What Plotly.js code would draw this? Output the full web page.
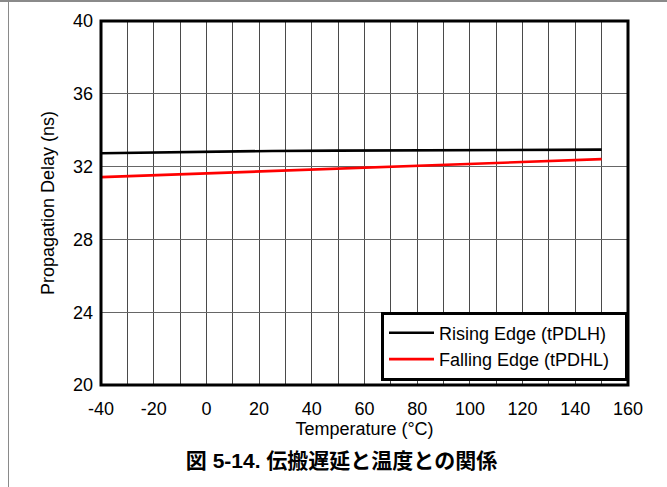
<!DOCTYPE html>
<html><head><meta charset="utf-8">
<script src="https://cdn.plot.ly/plotly-3.0.1.min.js"></script>
<style>
html,body{margin:0;padding:0;background:#fff;}
#wrap{position:relative;width:667px;height:487px;overflow:hidden;}
#chart{position:absolute;left:0;top:0;width:667px;height:487px;}
.frameTop{position:absolute;left:0;top:0;width:667px;height:2px;background:#8a8a8a;}
.frameLeft{position:absolute;left:8px;top:0;width:1px;height:487px;background:#8a8a8a;}
</style></head><body>
<div id="wrap"><div id="chart"></div><div class="frameTop"></div><div class="frameLeft"></div></div>
<script>
// Data
const temperature = [-40, -20, 0, 25, 50, 75, 100, 125, 150];
const risingEdge  = [32.73, 32.78, 32.82, 32.86, 32.88, 32.90, 32.91, 32.92, 32.93];
const fallingEdge = [31.42, 31.52, 31.63, 31.76, 31.89, 32.02, 32.15, 32.28, 32.41];
const seriesNames = ['Rising Edge (tPDLH)', 'Falling Edge (tPDHL)'];
const xTickVals = [-40, -20, 0, 20, 40, 60, 80, 100, 120, 140, 160];
const xTickText = ['-40', '-20', '0', '20', '40', '60', '80', '100', '120', '140', '160'];
const yTickVals = [20, 24, 28, 32, 36, 40];
const yTickText = ['20', '24', '28', '32', '36', '40'];

const FONT = 'Liberation Sans, Arial, sans-serif';
const PAD = '\u00a0\u00a0';

const traces = [
  {x: temperature, y: risingEdge, name: seriesNames[0] + PAD, mode: 'lines', type: 'scatter',
   line: {color: '#000000', width: 2.6}},
  {x: temperature, y: fallingEdge, name: seriesNames[1] + PAD, mode: 'lines', type: 'scatter',
   line: {color: '#ff0000', width: 2.6}}
];

const layout = {
  width: 667, height: 487,
  margin: {l: 101, r: 39, t: 21, b: 102, pad: 0},
  paper_bgcolor: '#ffffff', plot_bgcolor: '#ffffff',
  font: {family: FONT, size: 18, color: '#000000'},
  showlegend: true,
  title: {
    text: '<b>図 5-14. 伝搬遅延と温度との関係</b>',
    font: {family: 'Liberation Sans, Noto Sans CJK JP, sans-serif', size: 21, color: '#000000'},
    x: 0.512, xanchor: 'center', xref: 'container',
    y: 1 - 460.5 / 487, yanchor: 'middle', yref: 'container'
  },
  xaxis: {
    range: [-40, 160], tickvals: xTickVals, ticktext: xTickText,
    showgrid: true, gridcolor: '#4a4a4a', gridwidth: 1,
    minor: {dtick: 10, tick0: -40, showgrid: true, gridcolor: '#4a4a4a', gridwidth: 1, ticks: ''},
    zeroline: false, showline: false, ticks: '', ticklabelstandoff: 11,
    tickfont: {family: FONT, size: 18, color: '#000000'},
    title: {text: 'Temperature (°C)', font: {family: FONT, size: 18, color: '#000000'}, standoff: 4},
    fixedrange: true
  },
  yaxis: {
    range: [20, 40], tickvals: yTickVals, ticktext: yTickText,
    showgrid: true, gridcolor: '#666666', gridwidth: 1,
    zeroline: false, showline: false, ticks: '', ticklabelstandoff: 7,
    tickfont: {family: FONT, size: 18, color: '#000000'},
    title: {text: 'Propagation Delay (ns)', font: {family: FONT, size: 18, color: '#000000'}, standoff: 13},
    fixedrange: true
  },
  legend: {
    x: 1, xanchor: 'right', xref: 'paper',
    y: (385 - 346) / 364, yanchor: 'middle', yref: 'paper',
    bgcolor: '#ffffff', bordercolor: '#000000', borderwidth: 3,
    font: {family: FONT, size: 18, color: '#000000'},
    itemwidth: 45, tracegroupgap: 0
  },
  shapes: [
    {type: 'rect', xref: 'paper', yref: 'paper', x0: 0, x1: 1, y0: 0, y1: 1,
     line: {color: '#000000', width: 3}, layer: 'above'}
  ]
};

Plotly.newPlot('chart', traces, layout, {staticPlot: true, displayModeBar: false});
</script>
</body></html>
